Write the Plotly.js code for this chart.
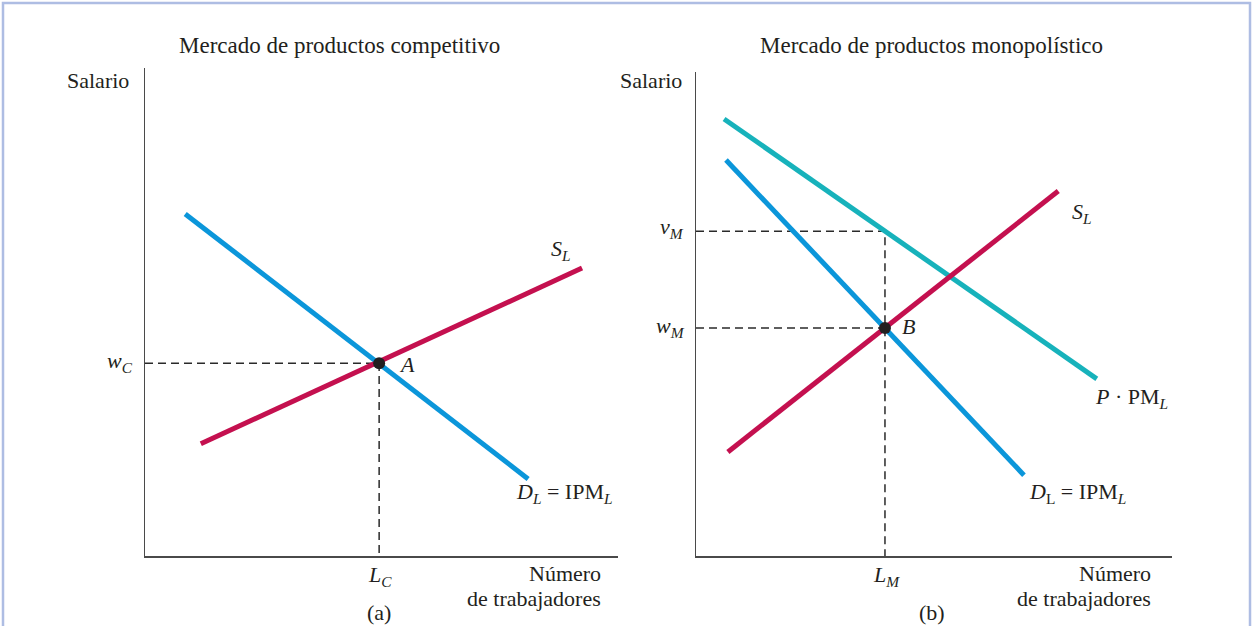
<!DOCTYPE html>
<html>
<head>
<meta charset="utf-8">
<script src="https://cdn.plot.ly/plotly-3.0.1.min.js"></script>
<style>html,body{margin:0;padding:0;background:#fff;}#chart{width:1254px;height:626px;}</style>
</head>
<body>
<div id="chart"></div>
<script>
// ---- Data (abstract units, each panel 0..10 on both axes) ----
// Panel (a): competitive product market
const demandA_x = [0.85, 8.10];
const demandA_y = [7.01, 1.58];
const supplyA_x = [1.18, 9.24];
const supplyA_y = [2.30, 5.90];
const eqA_x = [4.95];
const eqA_y = [3.95];

// Panel (b): monopolistic product market
const demandB_x = [0.63, 6.89];
const demandB_y = [8.18, 1.67];
const vmpB_x = [0.59, 8.42];
const vmpB_y = [9.03, 3.66];
const supplyB_x = [0.67, 7.61];
const supplyB_y = [2.15, 7.54];
const eqB_x = [3.97];
const eqB_y = [4.71];
const vM_level = [6.71];

const titles = ["Mercado de productos competitivo", "Mercado de productos monopolístico"];

// ---- Styling ----
const W = 1254, H = 626;
const px = x => x / W, py = y => 1 - y / H;
const BLUE = "#0b96da", RED = "#c4104f", TEAL = "#17b2bb", INK = "#231f20", AX = "#4a4a4a";
const FONT = "Liberation Serif";

function seg(x, y, color, xa, ya) {
  return {x: x, y: y, type: "scatter", mode: "lines", xaxis: xa, yaxis: ya,
          line: {color: color, width: 5}, hoverinfo: "skip", showlegend: false};
}
function dashed(x, y, xa, ya) {
  return {x: x, y: y, type: "scatter", mode: "lines", xaxis: xa, yaxis: ya,
          line: {color: "#2a2a2a", width: 1.5, dash: "8px,5px"}, hoverinfo: "skip", showlegend: false};
}
function dot(x, y, xa, ya) {
  return {x: x, y: y, type: "scatter", mode: "markers", xaxis: xa, yaxis: ya,
          marker: {color: INK, size: 12}, hoverinfo: "skip", showlegend: false};
}

const traces = [
  // panel a
  dashed([0, eqA_x[0], eqA_x[0]], [eqA_y[0], eqA_y[0], 0], "x", "y"),
  seg(demandA_x, demandA_y, BLUE, "x", "y"),
  seg(supplyA_x, supplyA_y, RED, "x", "y"),
  dot(eqA_x, eqA_y, "x", "y"),
  // panel b
  dashed([0, eqB_x[0], eqB_x[0]], [vM_level[0], vM_level[0], 0], "x2", "y2"),
  dashed([0, eqB_x[0]], [eqB_y[0], eqB_y[0]], "x2", "y2"),
  seg(vmpB_x, vmpB_y, TEAL, "x2", "y2"),
  seg(demandB_x, demandB_y, BLUE, "x2", "y2"),
  seg(supplyB_x, supplyB_y, RED, "x2", "y2"),
  dot(eqB_x, eqB_y, "x2", "y2")
];

function axis(domain, anchor) {
  return {domain: domain, anchor: anchor, range: [0, 10], showline: true, linecolor: AX, linewidth: 1.5,
          showgrid: false, zeroline: false, ticks: "", showticklabels: false, fixedrange: true};
}

function ann(text, x, y, size, xanchor) {
  return {text: text, x: px(x), y: py(y), xref: "paper", yref: "paper", showarrow: false,
          xanchor: xanchor || "center", yanchor: "middle",
          font: {family: FONT, size: size || 22, color: INK}};
}

const annotations = [
  ann(titles[0], 339, 46, 23),
  ann(titles[1], 931, 46, 23),
  // panel a
  ann("Salario", 98, 80, 22),
  ann("<i>w</i><sub><i>C</i></sub>", 120, 362, 22),
  ann("<i>L</i><sub><i>C</i></sub>", 380, 576, 22),
  ann("Número", 603, 573, 22, "right"),
  ann("de trabajadores", 603, 598, 22, "right"),
  ann("(a)", 379, 612, 22),
  ann("<i>S</i><sub><i>L</i></sub>", 561, 250, 22),
  ann("<i>D</i><sub><i>L</i></sub> = IPM<sub><i>L</i></sub>", 564, 493, 22),
  ann("<i>A</i>", 407, 364, 22),
  // panel b
  ann("Salario", 651, 80, 22),
  ann("<i>v</i><sub><i>M</i></sub>", 672, 228, 22),
  ann("<i>w</i><sub><i>M</i></sub>", 670, 327, 22),
  ann("<i>L</i><sub><i>M</i></sub>", 886, 576, 22),
  ann("Número", 1153, 573, 22, "right"),
  ann("de trabajadores", 1153, 598, 22, "right"),
  ann("(b)", 932, 612, 22),
  ann("<i>S</i><sub><i>L</i></sub>", 1082, 213, 22),
  ann("<i>P</i> · PM<sub><i>L</i></sub>", 1131, 398, 22),
  ann("<i>D</i><sub>L</sub> = IPM<sub><i>L</i></sub>", 1077, 493, 22),
  ann("<i>B</i>", 909, 326, 22)
];

const layout = {
  width: W, height: H, margin: {l: 0, r: 0, t: 0, b: 0},
  paper_bgcolor: "#fff", plot_bgcolor: "rgba(0,0,0,0)", showlegend: false,
  xaxis: axis([px(145), px(618)], "y"),
  yaxis: axis([py(556), py(68)], "x"),
  xaxis2: axis([px(696), px(1172)], "y2"),
  yaxis2: axis([py(556), py(72)], "x2"),
  annotations: annotations,
  shapes: [
    {type: "rect", xref: "paper", yref: "paper", x0: px(3), x1: px(1250), y0: -0.05, y1: py(3),
     line: {color: "#aebde3", width: 2.5}, fillcolor: "rgba(0,0,0,0)"}
  ]
};

Plotly.newPlot("chart", traces, layout, {displayModeBar: false, staticPlot: true});
</script>
</body>
</html>
